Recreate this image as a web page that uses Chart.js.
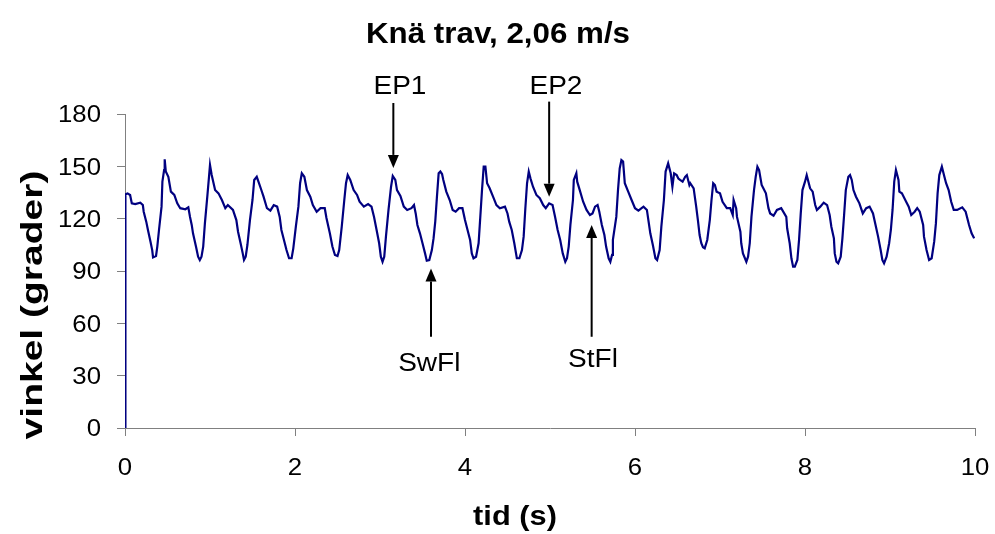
<!DOCTYPE html>
<html><head><meta charset="utf-8">
<script src="https://cdn.jsdelivr.net/npm/chart.js@4.4.1/dist/chart.umd.min.js"></script>
<style>html,body{margin:0;padding:0;background:#fff;}#wrap{width:995px;height:534px;}</style>
</head><body><div id="wrap"><canvas id="c" width="995" height="534"></canvas></div>
<script>
const chartTitle = 'Knä trav, 2,06 m/s';
const xAxisTitle = 'tid (s)';
const yAxisTitle = 'vinkel (grader)';
const xTicks = [0, 2, 4, 6, 8, 10];
const yTicks = [0, 30, 60, 90, 120, 150, 180];

const times = [0,0.005,0.03,0.06,0.08,0.12,0.18,0.21,0.22,0.25,0.27,0.30,0.32,0.33,0.365,0.38,0.40,0.43,0.44,0.46,0.467,0.48,0.51,0.54,0.58,0.615,0.65,0.71,0.745,0.765,0.785,0.80,0.835,0.86,0.88,0.90,0.92,0.94,0.97,0.99,1.0,1.02,1.06,1.10,1.14,1.18,1.21,1.27,1.31,1.33,1.36,1.385,1.40,1.42,1.44,1.47,1.50,1.52,1.55,1.57,1.60,1.63,1.67,1.71,1.75,1.79,1.82,1.84,1.87,1.90,1.93,1.96,1.98,2.01,2.04,2.06,2.08,2.11,2.14,2.18,2.21,2.255,2.30,2.35,2.37,2.41,2.44,2.47,2.50,2.52,2.55,2.58,2.60,2.62,2.65,2.69,2.73,2.76,2.81,2.86,2.90,2.93,2.96,2.99,3.01,3.03,3.05,3.07,3.10,3.13,3.15,3.18,3.20,3.24,3.28,3.32,3.37,3.40,3.42,3.44,3.47,3.50,3.53,3.55,3.58,3.61,3.63,3.65,3.67,3.69,3.71,3.73,3.745,3.78,3.82,3.855,3.89,3.93,3.97,4.0,4.03,4.06,4.08,4.10,4.13,4.16,4.18,4.20,4.22,4.24,4.26,4.29,4.33,4.37,4.41,4.47,4.50,4.52,4.55,4.58,4.61,4.64,4.67,4.69,4.71,4.73,4.75,4.77,4.80,4.84,4.88,4.92,4.95,4.99,5.03,5.06,5.09,5.12,5.15,5.18,5.20,5.22,5.24,5.27,5.28,5.31,5.32,5.35,5.39,5.43,5.47,5.50,5.53,5.56,5.58,5.61,5.64,5.66,5.69,5.71,5.73,5.74,5.78,5.80,5.82,5.84,5.86,5.88,5.92,5.96,6.0,6.04,6.10,6.14,6.16,6.18,6.21,6.24,6.26,6.29,6.31,6.34,6.36,6.39,6.42,6.44,6.46,6.49,6.51,6.53,6.56,6.59,6.61,6.64,6.65,6.69,6.72,6.74,6.76,6.78,6.80,6.82,6.85,6.88,6.90,6.92,6.94,6.96,7.00,7.03,7.08,7.12,7.15,7.16,7.19,7.20,7.24,7.25,7.27,7.31,7.33,7.35,7.37,7.40,7.42,7.44,7.46,7.49,7.51,7.54,7.57,7.59,7.63,7.67,7.72,7.78,7.79,7.82,7.84,7.86,7.88,7.91,7.93,7.95,7.97,8.0,8.02,8.04,8.06,8.09,8.12,8.14,8.18,8.22,8.26,8.29,8.31,8.34,8.35,8.37,8.39,8.42,8.44,8.46,8.48,8.51,8.53,8.55,8.57,8.60,8.64,8.68,8.72,8.76,8.80,8.83,8.86,8.89,8.91,8.93,8.96,8.99,9.01,9.03,9.05,9.07,9.10,9.11,9.14,9.19,9.22,9.25,9.29,9.32,9.35,9.39,9.40,9.43,9.46,9.49,9.52,9.54,9.56,9.58,9.61,9.64,9.66,9.69,9.72,9.75,9.79,9.85,9.89,9.93,9.96,9.99,10.0];
const angles = [0,134,134.5,133.6,128.8,128.4,129.2,127.8,124,118.3,113.5,106.8,102,97.8,98.6,104,113.5,126.9,141.2,147.9,154,147,144,135.5,133.6,128.8,126,125.4,126.5,121,116.4,111.6,104,98.2,96.3,98.2,104,117.3,133.6,145,150.8,145,136.4,134.5,130.7,126,127.8,125,119.2,112.5,105.9,100.1,96.3,98.2,104.9,119.2,130.7,142.2,144,141.2,137,132.6,126,124.6,127.8,126.9,121,113.5,107.8,102,97.3,97.3,103,115.4,126.9,140.3,146,144,136.4,132.6,127.8,124,126,126,120.4,111.6,104,99.2,98.6,102,115.4,130.7,140.3,145,142.2,136.4,133.6,129.7,126.9,128.4,126.9,121,113.5,105.9,98.2,95.3,98.2,109.7,125,138.3,144.5,142.2,136.4,133,126.9,125,126,127.8,123,116.4,111.6,105.9,100.1,95.9,96.3,102,108.7,118.3,132.6,146,147,145.6,142.2,135.5,130.7,125,124,126,126,119.2,113.5,107.8,100.1,97.3,98.2,105.9,121,136.4,149.8,149.8,140.3,137.4,132.6,127.8,126,126.9,123,118.3,113.5,105.9,97.3,97.3,102,109.7,126,140.3,147,143.1,138.3,133.6,131.7,127.8,126,128.8,127.8,121,113.5,107.8,100.1,95.3,97.3,104,116.4,130.7,142.2,146,141.2,136.4,129.7,125,122.1,123,126.9,127.8,124,116.4,110.6,104,97.3,95.3,99.2,107.8,121,136.4,148.8,153.6,152.7,140.3,135.5,130.7,126,124.6,126.9,125,118.3,111.6,104.9,97.3,96.3,102,115.4,130.7,147,151.7,146,138.3,146,145,143,142.2,141.2,144,145,139.3,140.3,137.4,126.9,119.2,110.6,105.9,103.6,103,107.8,119.2,130.7,140.3,139.3,135.5,134.5,129.7,126,126,122.1,130.7,126,121,112.5,105.9,100.1,95.3,98.2,105.9,121,136.4,144,149.8,147.9,139.3,137.4,134.5,126,123,121.7,125,126,121,114.5,105.9,97.3,92.5,92.5,96.3,107.8,123,136.4,141.2,145,141.2,137.4,135.5,127.8,125,126.9,129.2,127.8,122.1,115.4,108.7,100.1,95.3,94.4,98.2,108.7,122.1,136.4,144,145,142.2,136.4,132.6,128.8,123,126,126.9,123,116.4,109.7,102,96.3,94.4,98.2,105.9,113.5,125,141.2,147.9,142.2,135.5,134.5,129.7,126.9,122.1,124,126,124,116.4,109.7,102,96.3,97.3,106.8,117.3,134.5,145,149.8,144,140.3,136.4,129.7,125,125,126.5,124,116.4,111.6,108.7];

const noteLabels = ['EP1', 'EP2', 'SwFl', 'StFl'];
const noteArrowX = [3.157, 4.99, 3.6, 5.49];
const noteArrowFrom = [186.3, 187.1, 52.3, 52.3];
const noteArrowTo = [149.1, 132.6, 91.5, 116.4];
const noteLabelX = [3.235, 5.07, 3.58, 5.506];
const noteLabelY = [196.6, 196.6, 38, 40.1];

const FONT = '"Liberation Sans", Arial, sans-serif';

function stretchedText(ctx, text, x, y, size, bold, sx, align, rot) {
  ctx.save();
  ctx.translate(x, y);
  if (rot) ctx.rotate(rot);
  ctx.scale(sx, 1);
  ctx.font = (bold ? 'bold ' : '') + size + 'px ' + FONT;
  ctx.textAlign = align;
  ctx.textBaseline = 'alphabetic';
  ctx.fillStyle = '#000';
  ctx.fillText(text, 0, 0);
  ctx.restore();
}

const textPlugin = {
  id: 'texts',
  afterDraw(chart) {
    const ctx = chart.ctx;
    const xs = chart.scales.x, ys = chart.scales.y;
    const ca = chart.chartArea;
    stretchedText(ctx, chartTitle, 498, 43, 29, true, 1.08, 'center', 0);
    const tsz = 23;
    yTicks.forEach(v => {
      const py = ys.getPixelForValue(v);
      stretchedText(ctx, String(v), ca.left - 24, py + tsz * 0.358, tsz, false, 1.12, 'right', 0);
    });
    xTicks.forEach(v => {
      const px = xs.getPixelForValue(v);
      stretchedText(ctx, String(v), px, 475, tsz, false, 1.12, 'center', 0);
    });
    stretchedText(ctx, xAxisTitle, 515, 525, 27, true, 1.14, 'center', 0);
    stretchedText(ctx, yAxisTitle, 42, 305, 30, true, 1.3, 'center', -Math.PI / 2);
    noteLabels.forEach((lab, i) => {
      const ax = xs.getPixelForValue(noteArrowX[i]);
      const y0 = ys.getPixelForValue(noteArrowFrom[i]);
      const y1 = ys.getPixelForValue(noteArrowTo[i]);
      const dir = y1 > y0 ? 1 : -1;
      const head = 13, hw = 5.5;
      ctx.save();
      ctx.strokeStyle = '#000';
      ctx.fillStyle = '#000';
      ctx.lineWidth = 2;
      ctx.beginPath();
      ctx.moveTo(ax, y0);
      ctx.lineTo(ax, y1 - dir * head);
      ctx.stroke();
      ctx.beginPath();
      ctx.moveTo(ax, y1);
      ctx.lineTo(ax - hw, y1 - dir * head);
      ctx.lineTo(ax + hw, y1 - dir * head);
      ctx.closePath();
      ctx.fill();
      ctx.restore();
      const lx = xs.getPixelForValue(noteLabelX[i]);
      const ly = ys.getPixelForValue(noteLabelY[i]);
      stretchedText(ctx, lab, lx, ly + 25 * 0.358, 25, false, 1.12, 'center', 0);
    });
  }
};

new Chart(document.getElementById('c'), {
  type: 'scatter',
  data: {
    datasets: [{
      data: times.map((t, i) => ({ x: t, y: angles[i] })),
      showLine: true,
      borderColor: '#000080',
      borderWidth: 2.2,
      pointRadius: 0,
      tension: 0,
      fill: false
    }]
  },
  options: {
    responsive: false,
    animation: false,
    events: [],
    layout: { padding: { left: 117, right: 20, top: 114, bottom: 98 } },
    plugins: { legend: { display: false }, tooltip: { enabled: false }, title: { display: false } },
    scales: {
      x: {
        type: 'linear', min: 0, max: 10,
        afterBuildTicks: s => { s.ticks = xTicks.map(v => ({ value: v })); },
        ticks: { display: false },
        grid: { display: true, drawOnChartArea: false, drawTicks: true, tickLength: 8, color: '#808080', lineWidth: 1 },
        border: { display: true, color: '#808080', width: 1 }
      },
      y: {
        type: 'linear', min: 0, max: 180,
        afterBuildTicks: s => { s.ticks = yTicks.map(v => ({ value: v })); },
        ticks: { display: false },
        grid: { display: true, drawOnChartArea: false, drawTicks: true, tickLength: 8, color: '#808080', lineWidth: 1 },
        border: { display: true, color: '#808080', width: 1 }
      }
    }
  },
  plugins: [textPlugin]
});
</script></body></html>
